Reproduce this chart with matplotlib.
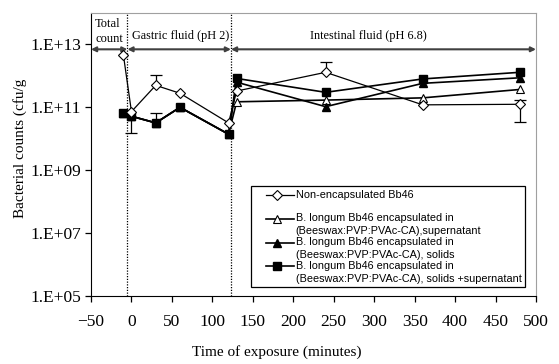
import matplotlib
matplotlib.use("Agg")
import matplotlib.pyplot as plt
import numpy as np
from matplotlib.legend_handler import HandlerLine2D
from matplotlib.ticker import FixedLocator, FuncFormatter, NullLocator

# sampling times (minutes)
t = [-10, 0, 30, 60, 120, 130, 240, 360, 480]

# bacterial counts (cfu/g)
non_encap = [4.7e12, 7.3e10, 5.0e11, 2.8e11, 3.2e10, 3.3e11, 1.3e12, 1.2e11, 1.25e11]
supernatant = [6.5e10, 5.2e10, 3.2e10, 1.0e11, 1.4e10, 1.5e11, 1.7e11, 2.0e11, 3.7e11]
solids = [6.5e10, 5.2e10, 3.2e10, 1.0e11, 1.4e10, 6.3e11, 1.05e11, 5.8e11, 8.7e11]
solids_sup = [6.5e10, 5.2e10, 3.2e10, 1.0e11, 1.4e10, 8.3e11, 3.0e11, 8.0e11, 1.3e12]

# error bar ends (time, value at end of bar)
non_encap_err_t = [30, 240, 480, 480]
non_encap_err_y = [1.05e12, 2.7e12, 1.75e11, 3.5e10]
solids_sup_err_t = [0, 30]
solids_sup_err_y = [1.5e10, 6.8e10]

phase_bounds = [-5, 123]

labels = [
    "Non-encapsulated Bb46\n ",
    "B. longum Bb46 encapsulated in\n(Beeswax:PVP:PVAc-CA),supernatant",
    "B. longum Bb46 encapsulated in\n(Beeswax:PVP:PVAc-CA), solids",
    "B. longum Bb46 encapsulated in\n(Beeswax:PVP:PVAc-CA), solids +supernatant",
]

serif = "Liberation Serif"
sans = "Liberation Sans"


class TopHandler(HandlerLine2D):
    # handle next to the first line of a two-line label, with a left gap
    def create_artists(self, legend, orig_handle, xdescent, ydescent,
                       width, height, fontsize, trans):
        arts = super().create_artists(legend, orig_handle, xdescent, ydescent,
                                      width, height, fontsize, trans)
        dy = 0.57 * fontsize
        gap = 8.5
        for a in arts:
            xd = np.asarray(a.get_xdata(), dtype=float)
            x0, x1 = xd.min(), xd.max()
            if len(xd) == 3:
                a.set_xdata([x0 + gap, x0 + gap + 7.5, x1])
            a.set_ydata(np.asarray(a.get_ydata()) + dy)
        return arts


fig = plt.figure(figsize=(5.59, 3.64), dpi=100)
ax = fig.add_axes([91 / 559, 68 / 364, 445 / 559, 283 / 364])

# error bars
def err(ax, xs, ends, series):
    base = [series[t.index(x)] for x in xs]
    ax.vlines(xs, base, ends, color="black", lw=0.9, zorder=2)
    ax.plot(xs, ends, ls="none", marker="_", ms=8, mew=0.9, color="black", zorder=2)

err(ax, non_encap_err_t, non_encap_err_y, non_encap)
err(ax, solids_sup_err_t, solids_sup_err_y, solids_sup)

l1, = ax.plot(t, non_encap, color="black", lw=0.9, marker="D", ms=5,
              mfc="white", mec="black", mew=0.8, zorder=4)
l2, = ax.plot(t, supernatant, color="black", lw=1.2, marker="^", ms=6,
              mfc="white", mec="black", mew=0.8, zorder=3)
l3, = ax.plot(t, solids, color="black", lw=1.2, marker="^", ms=6,
              mfc="black", mec="black", zorder=3)
l4, = ax.plot(t, solids_sup, color="black", lw=1.2, marker="s", ms=6,
              mfc="black", mec="black", zorder=3)

ax.set_xlim(-50, 500)
ax.set_yscale("log")
ax.set_ylim(1e5, 1e14)

for xb in phase_bounds:
    ax.axvline(xb, color="black", ls=(0, (1, 1.2)), lw=0.9, zorder=1)

# phase arrows
arrow_y = 7e12
spans = [(-50, phase_bounds[0]), (phase_bounds[0], phase_bounds[1]), (phase_bounds[1], 500)]
for a, b in spans:
    ax.annotate("", xy=(a, arrow_y), xytext=(b, arrow_y),
                arrowprops=dict(arrowstyle="<|-|>", color="#404040", lw=1.5,
                                shrinkA=0, shrinkB=0, mutation_scale=7))

tr = ax.get_xaxis_transform()
ax.text(-45, 0.935, "Total\ncount", transform=tr, ha="left", va="center",
        family=serif, fontsize=9, linespacing=1.3)
ax.text(0.5, 0.92, "Gastric fluid (pH 2)", transform=tr, ha="left", va="center",
        family=serif, fontsize=8.8)
ax.text(221, 0.92, "Intestinal fluid (pH 6.8)", transform=tr, ha="left", va="center",
        family=serif, fontsize=8.8)

ax.yaxis.set_major_locator(FixedLocator([1e5, 1e7, 1e9, 1e11, 1e13]))
ax.yaxis.set_minor_locator(NullLocator())
ax.yaxis.set_major_formatter(FuncFormatter(lambda v, p: "1.E+%02d" % round(np.log10(v))))
ax.set_xticks(np.arange(-50, 501, 50))
ax.tick_params(axis="both", direction="out", length=4, width=0.9, labelsize=12.5)
ax.tick_params(axis="x", pad=9)
ax.tick_params(axis="y", pad=3)
for lab in ax.get_xticklabels() + ax.get_yticklabels():
    lab.set_family(serif)

ax.spines["left"].set_color("black")
ax.spines["bottom"].set_color("black")
ax.spines["top"].set_color("#a0a0a0")
ax.spines["right"].set_color("#a0a0a0")

ax.set_xlabel("Time of exposure (minutes)", family=serif, fontsize=11)
ax.xaxis.set_label_coords(0.418, -0.172)
ax.set_ylabel("Bacterial counts (cfu/g", family=serif, fontsize=11)
ax.yaxis.set_label_coords(-0.144, 0.523)

leg = ax.legend([l1, l2, l3, l4], labels, loc="lower right",
                bbox_to_anchor=(0.975, 0.032), prop={"family": sans, "size": 7.8},
                frameon=True, fancybox=False, edgecolor="black", framealpha=1,
                handlelength=3.6, handletextpad=0.2, labelspacing=0.12,
                borderpad=0.3, borderaxespad=0,
                handler_map={l1: TopHandler(), l2: TopHandler(),
                             l3: TopHandler(), l4: TopHandler()})
for txt in leg.get_texts():
    txt.set_linespacing(1.32)
leg.get_frame().set_linewidth(0.9)

fig.savefig("out.png", dpi=100)
